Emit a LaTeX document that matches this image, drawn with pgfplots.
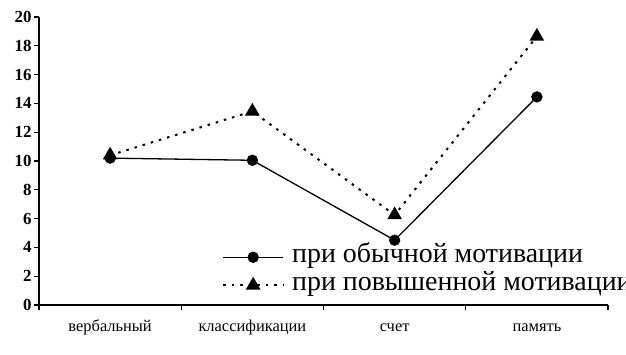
\documentclass[border=0pt]{standalone}
\usepackage{fontspec}
\setmainfont{Liberation Serif}
\usepackage{pgfplots}
\pgfplotsset{compat=1.18}
\begin{document}
\begin{tikzpicture}
\useasboundingbox (0bp,0bp) rectangle (626bp,355bp);
\clip (0bp,0bp) rectangle (626bp,355bp);
\begin{axis}[
  at={(39bp,50bp)}, anchor=south west,
  scale only axis, width=569bp, height=288bp,
  axis lines=left, axis line style={line width=1.3bp, -},
  xmin=0.5, xmax=4.5, ymin=0, ymax=20,
  ytick={0,2,...,20},
  xtick={0.5,1.5,2.5,3.5,4.5}, xticklabels={},
  extra x ticks={1,2,3,4},
  extra x tick labels={вербальный,классификации,счет,память},
  extra x tick style={major tick length=0pt, tick label style={yshift=-12bp, text height=11bp, text depth=3bp}},
  tick align=outside, major tick length=5bp,
  tick style={line width=1.1bp, black},
  /pgf/number format/assume math mode=true,
  tick label style={font=\fontsize{16.5}{17}\selectfont},
  yticklabel style={font=\fontsize{17}{18}\selectfont\bfseries, xshift=1bp},
  clip=false,
  legend style={at={(0.3216,0.215)}, anchor=north west, draw=none, fill=none,
    font=\fontsize{28}{29}\selectfont, row sep=0pt, inner sep=0pt,
    nodes={inner sep=0pt, text height=19bp, text depth=9bp},
    /tikz/every odd column/.append style={column sep=8bp}},
  legend cell align=left,
  legend image code/.code={\draw[mark repeat=2,mark phase=2] plot coordinates {(0bp,0bp) (30bp,0bp) (60bp,0bp)};},
]
\addplot[black, line width=1.3bp, mark=*, mark size=5bp] coordinates {(1,10.2) (2,10.05) (3,4.5) (4,14.45)};
\addlegendentry{при обычной мотивации}
\addplot[black, line width=2bp, dash pattern=on 2.5bp off 6bp, mark=triangle*, mark size=6.5bp, mark options={solid}] coordinates {(1,10.4) (2,13.45) (3,6.25) (4,18.65)};
\addlegendentry{при повышенной мотивации}
\end{axis}
\end{tikzpicture}
\end{document}
